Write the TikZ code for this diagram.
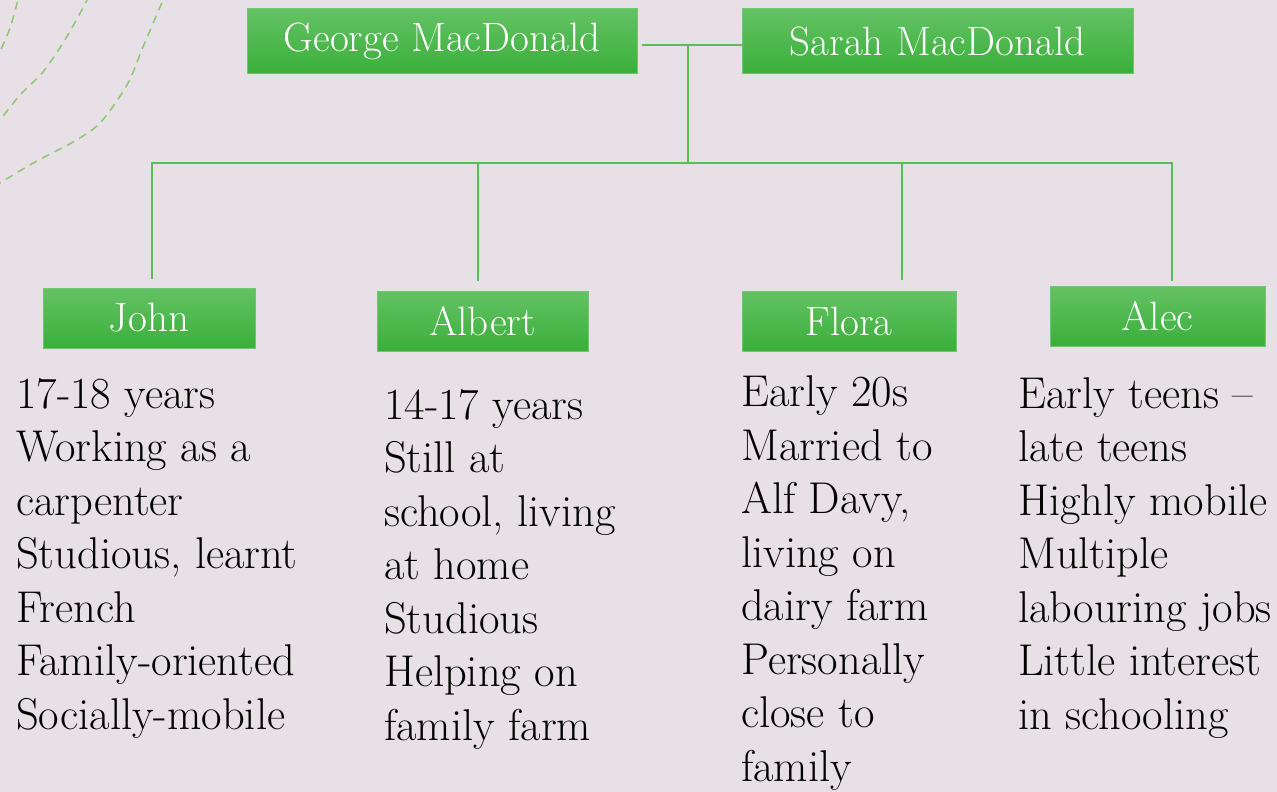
\documentclass[tikz,border=0pt]{standalone}
\usetikzlibrary{positioning}

\definecolor{bgcol}{RGB}{231,225,231}
\definecolor{boxtop}{RGB}{100,194,100}
\definecolor{boxbot}{RGB}{58,175,58}
\definecolor{boxedge}{RGB}{110,198,110}
\definecolor{linkcol}{RGB}{88,190,88}
\definecolor{swirlcol}{RGB}{140,200,110}

\begin{document}
\begin{tikzpicture}[x=1pt,y=-1pt,
    person/.style={draw=boxedge, line width=1pt, top color=boxtop, bottom color=boxbot,
      text=white, inner sep=0pt, font=\fontsize{41}{48}\selectfont},
    link/.style={draw=linkcol, line width=2pt},
    notes/.style={anchor=base west, align=left, inner sep=0pt, font=\fontsize{44.5}{53.5}\selectfont},
    swirl/.style={draw=swirlcol, line width=1.5pt, dash pattern=on 8pt off 6pt}]

    % page and background
    \useasboundingbox (0,0) rectangle (1277,792);
    \fill[bgcol] (0,0) rectangle (1277,792);

    % dashed swirls, top left
    \draw[swirl] plot[smooth] coordinates {(-4,62) (0,52) (10,28) (18,0) (20,-6)};
    \draw[swirl] plot[smooth] coordinates {(-6,126) (0,120) (20,95) (43,72) (63,43) (78,17) (87,0) (89,-6)};
    \draw[swirl] plot[smooth] coordinates {(-6,187) (0,183) (35,162) (73,142) (100,123) (127,85) (143,47) (163,0) (165,-6)};

    % parents
    \node[person, minimum width=390pt, minimum height=65pt] (george) at (442,41.5) {George MacDonald};
    \node[person, minimum width=391pt, minimum height=65pt] (sarah) at (937.5,41.5) {Sarah MacDonald};

    % children
    \node[person, minimum width=212pt, minimum height=60pt] (john) at (149,318) {John};
    \node[person, minimum width=211pt, minimum height=60pt] (albert) at (482.5,321) {Albert};
    \node[person, minimum width=214pt, minimum height=60pt] (flora) at (849,321) {Flora};
    \node[person, minimum width=215pt, minimum height=60pt] (alec) at (1157.5,316) {Alec};

    % connector points
    \coordinate (join) at (688,45);
    \coordinate (hub) at (688,163);
    \coordinate (johnTop) at (152,279);
    \coordinate (albertTop) at (478,281);
    \coordinate (floraTop) at (902,280);
    \coordinate (alecTop) at (1172,281);

    % connectors
    \draw[link] ([xshift=4pt]george.east |- join) -- (sarah.west |- join);
    \draw[link] (join) -- (hub);
    \draw[link] (johnTop) |- (hub) -| (alecTop);
    \draw[link] (albertTop) -- (albertTop |- hub);
    \draw[link] (floraTop) -- (floraTop |- hub);

    % notes under each child (placed by the baseline of their last line)
    \node[notes] (johnNotes) at (16,729) {17-18 years\\Working as a\\carpenter\\Studious, learnt\\French\\Family-oriented\\Socially-mobile};
    \node[notes] (albertNotes) at (384,740) {14-17 years\\Still at\\school, living\\at home\\Studious\\Helping on\\family farm};
    \node[notes] (floraNotes) at (741,781) {Early 20s\\Married to\\Alf Davy,\\living on\\dairy farm\\Personally\\close to\\family};
    \node[notes] (alecNotes) at (1018,729) {Early teens --\\late teens\\Highly mobile\\Multiple\\labouring jobs\\Little interest\\in schooling};
\end{tikzpicture}
\end{document}
